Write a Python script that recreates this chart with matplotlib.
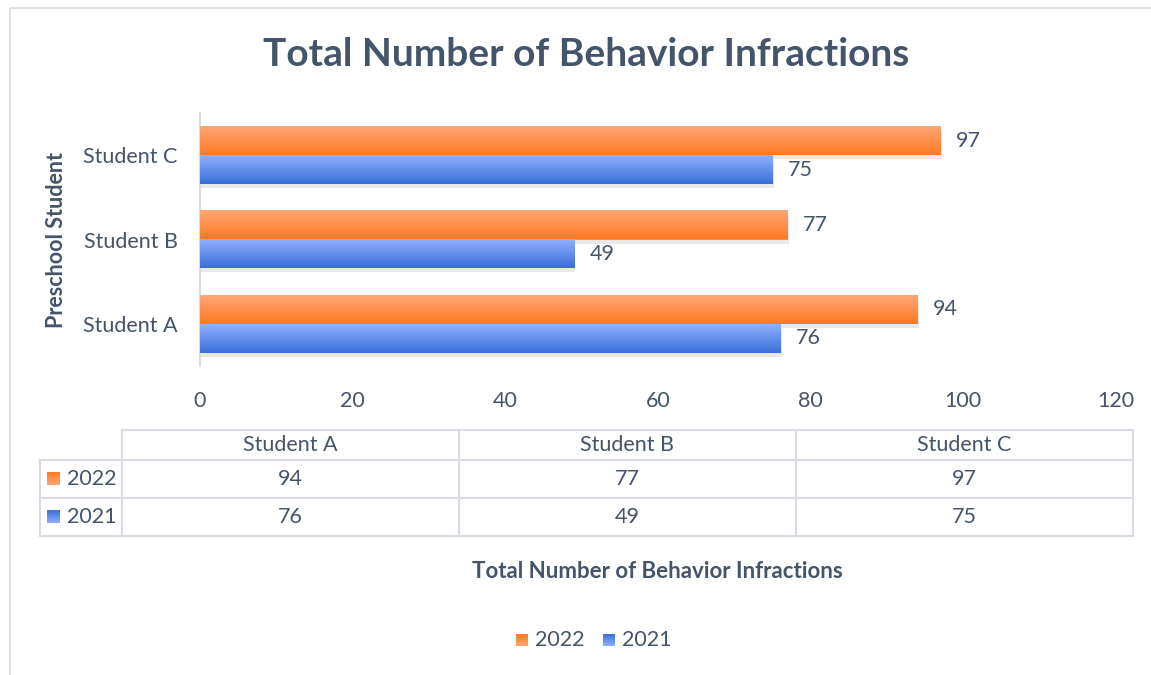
import numpy as np
import matplotlib
matplotlib.use('Agg')
import matplotlib.pyplot as plt
import matplotlib.patheffects as pe
from matplotlib.colors import LinearSegmentedColormap

plt.rcParams['font.family'] = ['Lato', 'DejaVu Sans']

# data
students = ['Student A', 'Student B', 'Student C']
years = ['2022', '2021']
vals_2022 = [94, 77, 97]
vals_2021 = [76, 49, 75]

txt = '#44546a'
fs = 15.5
orange = LinearSegmentedColormap.from_list('o', ['#ff7a22', '#ffa677'])
blue = LinearSegmentedColormap.from_list('b', ['#3a6fd8', '#8fb0ff'])
grid = np.linspace(0, 1, 64).reshape(-1, 1)

W, H = 1151, 675
fig = plt.figure(figsize=(W / 100, H / 100), dpi=100)

# overlay in pixel coordinates for frame, table, legend
ov = fig.add_axes([0, 0, 1, 1])
ov.set_xlim(0, W)
ov.set_ylim(H, 0)
ov.axis('off')
ov.add_patch(plt.Rectangle((10, 8), W + 20, H, fill=False, ec='#dfe2e8', lw=1.5))

ax = fig.add_axes([200 / W, 1 - 366 / H, 916 / W, 253 / H])
y = np.arange(len(students))
h = 0.34
bars22 = ax.barh(y + h / 2, vals_2022, height=h, color='#ff8c44', zorder=2)
bars21 = ax.barh(y - h / 2, vals_2021, height=h, color='#6490f0', zorder=2)

shadow = [pe.SimplePatchShadow(offset=(1, -3), shadow_rgbFace='#aaaaaa', alpha=0.25), pe.Normal()]
for bars, cm in ((bars22, orange), (bars21, blue)):
    for b in bars:
        b.set_path_effects(shadow)
        x0, y0, bw, bh = b.get_x(), b.get_y(), b.get_width(), b.get_height()
        ax.imshow(grid, cmap=cm, aspect='auto', extent=(x0, x0 + bw, y0, y0 + bh),
                  origin='lower', zorder=3, interpolation='bicubic')
        ax.text(x0 + bw + 2, y0 + bh / 2, f'{bw:g}', va='center', ha='left',
                fontsize=fs, color=txt, zorder=4)

ax.set_xlim(0, 120)
ax.set_ylim(-0.5, len(students) - 0.5)
ax.set_xticks(range(0, 121, 20))
ax.set_yticks(y)
ax.set_yticklabels(students)
ax.tick_params(length=0, labelsize=fs, colors=txt)
ax.tick_params(axis='y', pad=16)
ax.tick_params(axis='x', pad=18)
for s in ['top', 'right', 'bottom']:
    ax.spines[s].set_visible(False)
ax.spines['left'].set_color('#d9dde3')
ax.spines['left'].set_linewidth(1.5)
ax.set_ylabel('Preschool Student', fontsize=fs, fontweight='bold', color=txt, labelpad=12)

fig.text(586 / W, 1 - 55 / H, 'Total Number of Behavior Infractions', ha='center', va='center',
         fontsize=28, fontweight='bold', color=txt)

# data table under the axis
lc = '#d9dde3'
cols = [122, 459, 796, 1133]
rows = [430, 460, 498, 536]
ov.plot([cols[0], cols[-1]], [rows[0], rows[0]], color=lc, lw=1.5)
for yy in rows[1:]:
    ov.plot([40, cols[-1]], [yy, yy], color=lc, lw=1.5)
for xx in cols:
    ov.plot([xx, xx], [rows[0], rows[-1]], color=lc, lw=1.5)
ov.plot([40, 40], [rows[1], rows[-1]], color=lc, lw=1.5)
for i, s in enumerate(students):
    cx = (cols[i] + cols[i + 1]) / 2
    ov.text(cx, (rows[0] + rows[1]) / 2, s, ha='center', va='center', fontsize=fs, color=txt)
    ov.text(cx, (rows[1] + rows[2]) / 2, str(vals_2022[i]), ha='center', va='center', fontsize=fs, color=txt)
    ov.text(cx, (rows[2] + rows[3]) / 2, str(vals_2021[i]), ha='center', va='center', fontsize=fs, color=txt)


def swatch(x, yc, cm, size=13):
    ov.imshow(grid, cmap=cm, aspect='auto', extent=(x, x + size, yc + size / 2, yc - size / 2),
              origin='upper', zorder=3, interpolation='bicubic')


for j, (yr, cm) in enumerate(zip(years, (orange, blue))):
    yc = (rows[j + 1] + rows[j + 2]) / 2
    swatch(47, yc, cm)
    ov.text(67, yc, yr, ha='left', va='center', fontsize=fs, color=txt)

ov.text(657, 572, 'Total Number of Behavior Infractions', ha='center', va='center',
        fontsize=16, fontweight='bold', color=txt)

# legend
for x0, yr, cm in ((516, years[0], orange), (603, years[1], blue)):
    swatch(x0, 640, cm, size=12)
    ov.text(x0 + 19, 640, yr, ha='left', va='center', fontsize=fs, color=txt)

ov.set_xlim(0, W)
ov.set_ylim(H, 0)
fig.savefig('out.png', dpi=100)
